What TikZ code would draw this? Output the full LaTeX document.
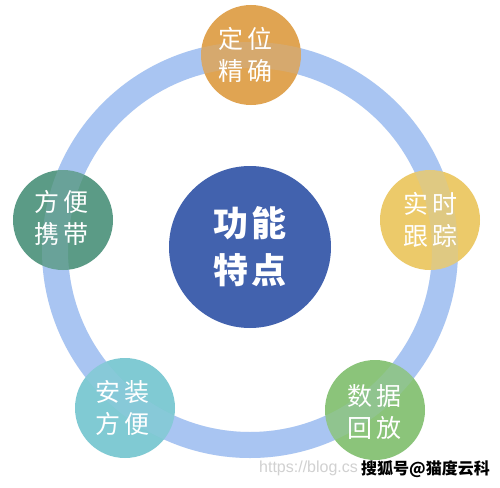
\documentclass[tikz,border=0pt]{standalone}
\usepackage{fontspec}
\newfontfamily\cjk{Noto Sans CJK SC}
\newfontfamily\urlfont{Liberation Sans}
\definecolor{ringc}{HTML}{A9C5F2}
\definecolor{cTop}{HTML}{E0A452}
\definecolor{cLeft}{HTML}{5B9B86}
\definecolor{cRight}{HTML}{ECCA6A}
\definecolor{cBL}{HTML}{80CAD3}
\definecolor{cBR}{HTML}{8BC47A}
\definecolor{cMid}{HTML}{4262AE}
\begin{document}
\begin{tikzpicture}[x=1pt,y=-1pt]
\tikzset{
  bub/.style={circle, minimum size=100pt, inner sep=0pt, draw=none},
  bubtxt/.style={text=white, align=center, inner sep=0pt, font=\cjk\fontsize{25}{32}\selectfont},
  midtxt/.style={text=white, align=center, inner sep=0pt, font=\cjk\bfseries\fontsize{35}{47}\selectfont},
  ringline/.style={draw=ringc, line width=26pt}
}
\useasboundingbox (0,0) rectangle (500,487);
\fill[white] (0,0) rectangle (500,487);
% ring
\draw[ringline] (250,250) circle[radius=195];
% circles
\node[bub, fill=cMid, minimum size=162pt] (mid) at (250,247) {};
\node[bub, fill=cTop] (top) at (251,55) {};
\node[bub, fill=cLeft] (left) at (63,220) {};
\node[bub, fill=cRight] (right) at (430,220) {};
\node[bub, fill=cBL] (bl) at (125,408) {};
\node[bub, fill=cBR] (br) at (375,410) {};
% ring showing through the circles
\draw[ringline, opacity=0.18] (250,250) circle[radius=195];
% texts
\node[midtxt] (midt) at (mid.center) {功\hspace{3pt}能\\特\hspace{3pt}点};
\node[bubtxt] (topt) at ([xshift=-6pt]top.center) {定\hspace{4pt}位\\精\hspace{4pt}确};
\node[bubtxt] (leftt) at ([xshift=-2pt,yshift=2pt]left.center) {方\hspace{4pt}便\\携\hspace{4pt}带};
\node[bubtxt] (rightt) at ([yshift=0pt]right.center) {实\hspace{4pt}时\\跟\hspace{4pt}踪};
\node[bubtxt] (blt) at ([xshift=-3pt]bl.center) {安\hspace{4pt}装\\方\hspace{4pt}便};
\node[bubtxt] (brt) at ([xshift=-1pt,yshift=-2pt]br.center) {数\hspace{4pt}据\\回\hspace{4pt}放};
% watermark
\node[anchor=west, inner sep=0pt, text=black!18, font=\urlfont\fontsize{16}{16}\selectfont] (url) at (259,468) {https://blog.cs};
\node[anchor=west, inner sep=0pt, text=black, font=\cjk\bfseries\fontsize{16}{16}\selectfont] (wm) at (361,469) {搜狐号@猫度云科};
\end{tikzpicture}
\end{document}
